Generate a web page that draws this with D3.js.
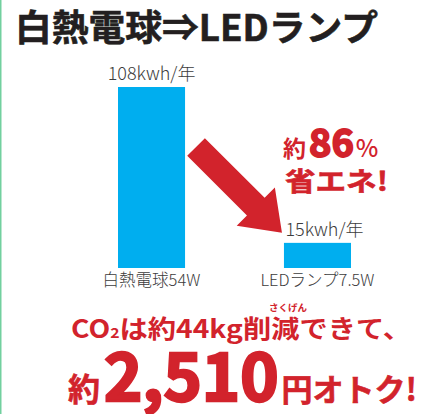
<!DOCTYPE html>
<html>
<head>
<meta charset="utf-8">
<script src="https://cdn.jsdelivr.net/npm/d3@7"></script>
<style>
  body { margin: 0; background: #fff; }
  svg { display: block; }
  text { font-family: "Noto Sans CJK JP", "Noto Sans", sans-serif; }
</style>
</head>
<body>
<svg id="chart" width="430" height="414"></svg>
<script>
// data
var categories = ["白熱電球54W", "LEDランプ7.5W"];
var values = [108, 15];
var valueLabels = ["108kwh/年", "15kwh/年"];
var title = "白熱電球⇒LEDランプ";
var savingPct = "86";
var co2Kg = "44";
var yenSaved = "2,510";

var width = 430, height = 414;
var red = "#d2232c", blue = "#00aeef", gray = "#3c3c3c";

var svg = d3.select("#chart");

// green rule on the left edge
svg.append("line")
	.attr("x1", 0.75).attr("x2", 0.75)
	.attr("y1", 0).attr("y2", height)
	.attr("stroke", "#72d09f")
	.attr("stroke-width", 1.5);

svg.append("text")
	.attr("x", 15)
	.attr("y", 41)
	.attr("font-size", 36)
	.attr("font-weight", 700)
	.attr("fill", "#231f20")
	.attr("stroke", "#231f20")
	.attr("stroke-width", 0.6)
	.attr("textLength", 363)
	.attr("lengthAdjust", "spacingAndGlyphs")
	.text(title);

var x = d3.scaleBand()
	.domain(categories)
	.range([118, 351])
	.paddingInner(0.596)
	.paddingOuter(0);

var y = d3.scaleLinear()
	.domain([0, 108])
	.range([268, 87]);

var data = categories.map(function(c, i) {
	return {cat: c, value: values[i], label: valueLabels[i]};
});

svg.selectAll(".bar")
	.data(data)
	.enter()
	.append("rect")
	.attr("class", "bar")
	.attr("x", function(d) { return x(d.cat); })
	.attr("y", function(d) { return y(d.value); })
	.attr("width", x.bandwidth())
	.attr("height", function(d) { return y(0) - y(d.value); })
	.attr("fill", blue);

svg.selectAll(".vlabel")
	.data(data)
	.enter()
	.append("text")
	.attr("class", "vlabel")
	.attr("x", function(d, i) { return x(d.cat) + x.bandwidth() / 2 + (i == 1 ? 7 : 0); })
	.attr("y", function(d) { return y(d.value) - 7; })
	.attr("text-anchor", "middle")
	.attr("font-size", 18)
	.attr("font-weight", 300)
	.attr("fill", gray)
	.text(function(d) { return d.label; });

svg.selectAll(".clabel")
	.data(data)
	.enter()
	.append("text")
	.attr("class", "clabel")
	.attr("x", function(d) { return x(d.cat) + x.bandwidth() / 2; })
	.attr("y", y(0) + 18)
	.attr("text-anchor", "middle")
	.attr("font-size", 16.5)
	.attr("font-weight", 300)
	.attr("fill", gray)
	.text(function(d) { return d.cat; });

// big red arrow from bar 1 down to bar 2
var tail = [x(categories[0]) + x.bandwidth() + 11, y(values[0]) + 60];
var tip = [x(categories[1]) - 2, y(values[1]) - 10];
var dx = tip[0] - tail[0], dy = tip[1] - tail[1];
var len = Math.sqrt(dx * dx + dy * dy);
var ang = Math.atan2(dy, dx) * 180 / Math.PI;
var shaftW = 12.5, headW = 27, headLen = 37;
var arrowPts = [
	[0, -shaftW], [len - headLen, -shaftW], [len - headLen, -headW],
	[len, 0],
	[len - headLen, headW], [len - headLen, shaftW], [0, shaftW]
];
svg.append("path")
	.attr("d", d3.line()(arrowPts) + "Z")
	.attr("transform", "translate(" + tail[0] + "," + tail[1] + ") rotate(" + ang + ")")
	.attr("fill", red);

// callout
var callout = svg.append("text")
	.attr("x", 283)
	.attr("y", 157)
	.attr("fill", red)
	.attr("font-weight", 700);
callout.append("tspan").attr("font-size", 23).text("約");
callout.append("tspan")
	.attr("font-size", 38)
	.attr("stroke", red)
	.attr("stroke-width", 1.8)
	.attr("dx", 3)
	.text(savingPct);
callout.append("tspan")
	.attr("font-weight", 500)
	.attr("font-size", 24)
	.attr("dx", 2)
	.text("%");

svg.append("text")
	.attr("x", 285)
	.attr("y", 191)
	.attr("fill", red)
	.attr("stroke", red)
	.attr("stroke-width", 0.6)
	.attr("font-weight", 700)
	.attr("font-size", 26)
	.attr("textLength", 103)
	.attr("lengthAdjust", "spacingAndGlyphs")
	.text("省エネ!");

// bottom message
var line1 = svg.append("text")
	.attr("x", 71)
	.attr("y", 338)
	.attr("fill", red)
	.attr("font-weight", 700)
	.attr("font-size", 25)
	.attr("textLength", 340)
	.attr("lengthAdjust", "spacingAndGlyphs");
line1.append("tspan").text("CO");
line1.append("tspan").attr("font-size", 14).text("2");
line1.append("tspan").text("は約" + co2Kg + "kg削減できて、");

svg.append("text")
	.attr("x", 288)
	.attr("y", 311)
	.attr("text-anchor", "middle")
	.attr("fill", red)
	.attr("font-weight", 700)
	.attr("font-size", 9.5)
	.text("さくげん");

var line2 = svg.append("text")
	.attr("x", 68)
	.attr("y", 401)
	.attr("fill", red)
	.attr("font-weight", 700);
line2.append("tspan")
	.attr("font-size", 32)
	.attr("stroke", red)
	.attr("stroke-width", 0.6)
	.text("約");
line2.append("tspan")
	.attr("font-size", 65)
	.attr("stroke", red)
	.attr("stroke-width", 2.6)
	.attr("dx", 4)
	.text(yenSaved);
line2.append("tspan")
	.attr("font-size", 31)
	.attr("stroke", red)
	.attr("stroke-width", 0.6)
	.attr("dx", 3)
	.text("円オトク!");
</script>
</body>
</html>
